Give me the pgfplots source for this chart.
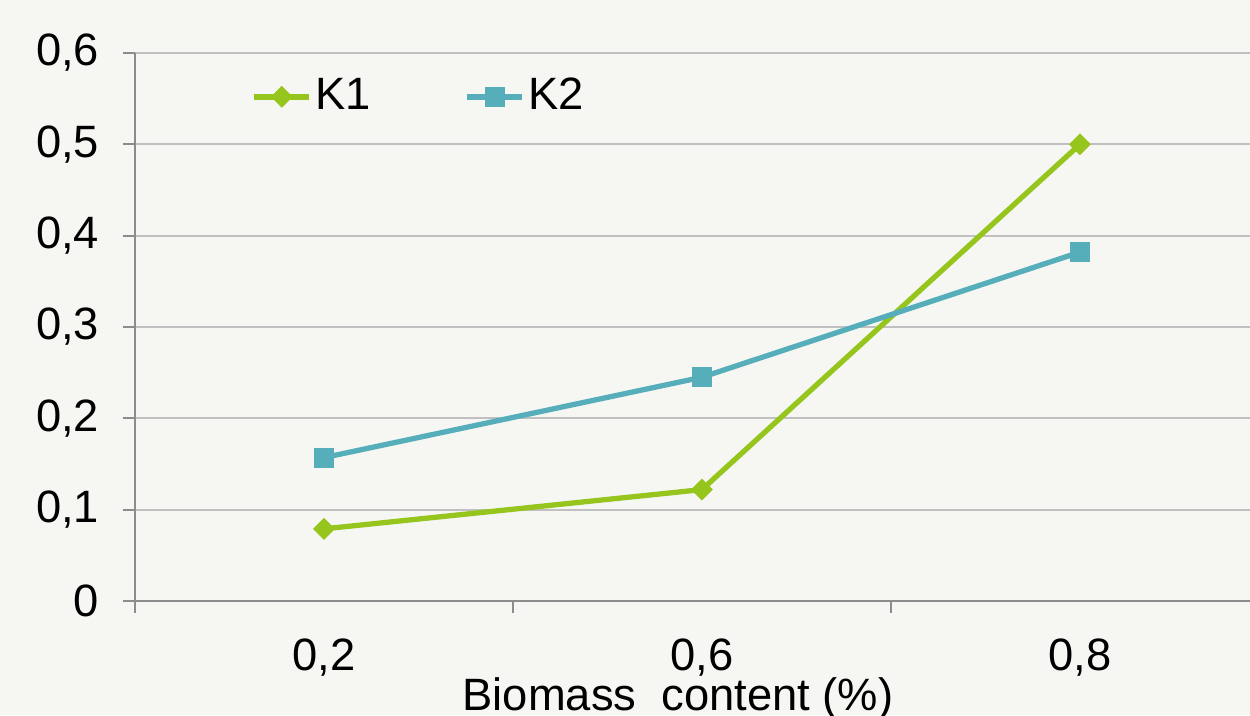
\documentclass[border=0pt]{standalone}
\usepackage{fontspec}
\setmainfont{Liberation Sans}
\usepackage{pgfplots}
\pgfplotsset{compat=1.18}
\definecolor{bgc}{RGB}{246,247,243}
\definecolor{gridc}{RGB}{192,192,192}
\definecolor{axc}{RGB}{140,140,140}
\definecolor{kone}{RGB}{150,197,30}
\definecolor{ktwo}{RGB}{86,174,186}
\begin{document}
\fontsize{12.9pt}{15pt}\selectfont
\begin{tikzpicture}
\fill[bgc] (0,0) rectangle (12.5cm,7.15cm);
\useasboundingbox (0,0) rectangle (12.5cm,7.15cm);
\begin{axis}[
  at={(1.35cm,1.14cm)}, anchor=south west,
  scale only axis, width=11.15cm, height=5.48cm,
  xmin=-0.5, xmax=2.45, ymin=0, ymax=0.6,
  axis x line*=bottom, axis y line*=left,
  axis line style={axc, line width=0.6pt},
  ytick={0,0.1,0.2,0.3,0.4,0.5,0.6},
  yticklabels={0,{0,1},{0,2},{0,3},{0,4},{0,5},{0,6}},
  yticklabel style={xshift=-0.08cm},
  xtick={-0.5,0.5,1.5}, xticklabels={},
  extra x ticks={0,1,2},
  extra x tick labels={{0,2},{0,6},{0,8}},
  extra x tick style={tick style={draw=none}, grid=none, xticklabel style={inner sep=0pt, yshift=-0.1cm-0.333em}},
  tick align=outside, major tick length=0.12cm,
  tick style={axc, line width=0.6pt},
  ymajorgrids, grid style={gridc, line width=0.6pt},
  ticklabel style={font=\fontsize{12.9pt}{15pt}\selectfont},
  xlabel={Biomass\ \ content (\%)},
  xlabel style={at={(axis description cs:0.487,-0.199)}, anchor=base, inner sep=0pt, font=\fontsize{12.9pt}{15pt}\selectfont},
  legend columns=2,
  legend style={at={(axis description cs:0.104,0.920)}, anchor=west, draw=none, fill=none, inner sep=0pt,
    nodes={inner sep=1pt}, font=\fontsize{12.9pt}{15pt}\selectfont,
    /tikz/every even column/.append style={column sep=0.9cm}},
  legend image code/.code={\draw[mark repeat=2,mark phase=2] plot coordinates {(0cm,0cm) (0.275cm,0cm) (0.55cm,0cm)};},
]
\addplot[kone, line width=1.5pt, mark=square*, mark size=0.072cm, mark options={rotate=45, line width=0.3pt}] coordinates {(0,0.079) (1,0.122) (2,0.5)};
\addlegendentry{K1}
\addplot[ktwo, line width=1.5pt, mark=square*, mark size=0.095cm, mark options={line width=0.3pt}] coordinates {(0,0.157) (1,0.245) (2,0.382)};
\addlegendentry{K2}
\end{axis}
\end{tikzpicture}
\end{document}
